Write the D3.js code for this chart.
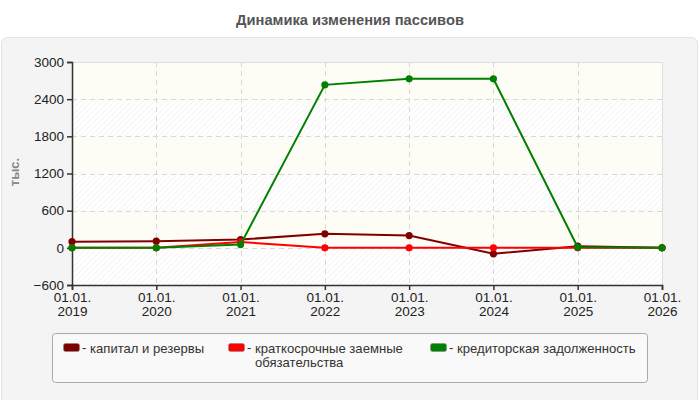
<!DOCTYPE html>
<html>
<head>
<meta charset="utf-8">
<script src="https://cdn.jsdelivr.net/npm/d3@7"></script>
<style>
  body { margin: 0; background: #fff; }
  svg { display: block; font-family: "Liberation Sans", Arial, sans-serif; }
</style>
</head>
<body>
<svg id="chart"></svg>
<script>
const width = 700;
const height = 400;

// data
const years = [2019, 2020, 2021, 2022, 2023, 2024, 2025, 2026];
const tickLabels = ["01.01.", "01.01.", "01.01.", "01.01.", "01.01.", "01.01.", "01.01.", "01.01."];
const capital = [100, 107, 134, 226, 198, -97, 26, 0];
const shortLoans = [0, 0, 95, 0, 0, 0, 0, 0];
const payables = [0, 0, 53, 2631, 2728, 2728, 10, 0];
const seriesNames = ["капитал и резервы", "краткосрочные заемные обязательства", "кредиторская задолженность"];
const seriesColors = ["#800000", "#ff0000", "#008000"];
const yTicks = [-600, 0, 600, 1200, 1800, 2400, 3000];

const font = "Liberation Sans, Arial, sans-serif";
const fs = 13.5;

const svg = d3.select("#chart").attr("width", width).attr("height", height);

// hatch pattern for the alternating bands
const defs = svg.append("defs");
const pat = defs
  .append("pattern")
  .attr("id", "hatch")
  .attr("patternUnits", "userSpaceOnUse")
  .attr("width", 4)
  .attr("height", 4)
  .attr("patternTransform", "rotate(45)");
pat.append("rect").attr("width", 4).attr("height", 4).attr("fill", "#ffffff");
pat.append("line").attr("x1", 0).attr("y1", 0).attr("x2", 0).attr("y2", 4)
  .attr("stroke", "#efefef").attr("stroke-width", 1.2);

svg.append("text")
  .attr("x", width / 2)
  .attr("y", 25)
  .attr("text-anchor", "middle")
  .attr("font-size", 14.7)
  .attr("font-weight", "bold")
  .attr("fill", "#555")
  .text("Динамика изменения пассивов");

// panel
svg.append("rect")
  .attr("x", 1.5).attr("y", 37.5)
  .attr("width", 696).attr("height", 370)
  .attr("rx", 6)
  .attr("fill", "#f4f4f4")
  .attr("stroke", "#e2e2e2");

const x = d3.scaleLinear().domain([2019, 2026]).range([72, 662]);
const y = d3.scaleLinear().domain([-600, 3000]).range([285, 62]);

const plot = svg.append("g");

// alternating bands
for (let i = 0; i < yTicks.length - 1; i++) {
  const lo = yTicks[i], hi = yTicks[i + 1];
  plot.append("rect")
    .attr("x", x(2019)).attr("width", x(2026) - x(2019))
    .attr("y", y(hi)).attr("height", y(lo) - y(hi))
    .attr("fill", i % 2 === 0 ? "url(#hatch)" : "#fdfdf6");
}

// frame top/right
plot.append("path")
  .attr("d", `M${x(2019)},${y(3000) + 0.5}H${x(2026) + 0.5}V${y(-600)}`)
  .attr("fill", "none")
  .attr("stroke", "#dddddd");

// grid
plot.append("g")
  .selectAll("line")
  .data(yTicks.filter((d) => d !== -600 && d !== 3000))
  .join("line")
  .attr("x1", x(2019)).attr("x2", x(2026))
  .attr("y1", (d) => Math.round(y(d)) + 0.5).attr("y2", (d) => Math.round(y(d)) + 0.5)
  .attr("stroke", "#d8d8d8")
  .attr("stroke-dasharray", "5,4");
plot.append("g")
  .selectAll("line")
  .data(years.slice(1, -1))
  .join("line")
  .attr("x1", (d) => Math.round(x(d)) + 0.5).attr("x2", (d) => Math.round(x(d)) + 0.5)
  .attr("y1", y(3000)).attr("y2", y(-600))
  .attr("stroke", "#d8d8d8")
  .attr("stroke-dasharray", "5,4");

// axes
const yAxis = svg.append("g")
  .attr("transform", `translate(${x(2019)},0)`)
  .call(d3.axisLeft(y).tickValues(yTicks).tickFormat(d3.format("d")).tickSize(5).tickPadding(3));
const xAxis = svg.append("g")
  .attr("transform", `translate(0,${y(-600)})`)
  .call(d3.axisBottom(x).tickValues(years).tickSize(5).tickFormat(""));

[yAxis, xAxis].forEach((g) => {
  g.attr("font-family", font).attr("font-size", fs);
  g.select(".domain").attr("stroke", "#333").attr("stroke-width", 1.5);
  g.selectAll(".tick line").attr("stroke", "#333").attr("stroke-width", 1.5);
});
yAxis.selectAll(".tick text").attr("fill", "#222");

const xl = xAxis.selectAll(".tick")
  .append("text")
  .attr("text-anchor", "middle")
  .attr("fill", "#222");
xl.append("tspan").attr("x", 0).attr("y", 17).text((d, i) => tickLabels[i]);
xl.append("tspan").attr("x", 0).attr("y", 31).text((d) => d);

svg.append("text")
  .attr("transform", "translate(19,172) rotate(-90)")
  .attr("text-anchor", "middle")
  .attr("font-size", 13)
  .attr("font-weight", "bold")
  .attr("fill", "#888")
  .text("тыс.");

// series
const seriesData = [capital, shortLoans, payables];
const line = d3.line()
  .x((d, i) => x(years[i]))
  .y((d) => y(d));

seriesData.forEach((vals, k) => {
  const g = svg.append("g");
  g.append("path")
    .datum(vals)
    .attr("d", line)
    .attr("fill", "none")
    .attr("stroke", seriesColors[k])
    .attr("stroke-width", 2);
  g.selectAll("circle")
    .data(vals)
    .join("circle")
    .attr("cx", (d, i) => x(years[i]))
    .attr("cy", (d) => y(d))
    .attr("r", 3.6)
    .attr("fill", seriesColors[k]);
});

// legend
const lfs = 13.1;
const legend = svg.append("g");
legend.append("rect")
  .attr("x", 52.5).attr("y", 333.5)
  .attr("width", 595).attr("height", 49)
  .attr("rx", 3)
  .attr("fill", "#f9f9f9")
  .attr("stroke", "#aaaaaa");

const legendX = [63, 228, 430];
const legendLines = [["капитал и резервы"], ["краткосрочные заемные", "обязательства"], ["кредиторская задолженность"]];
seriesNames.forEach((name, k) => {
  const item = legend.append("g").attr("transform", `translate(${legendX[k]},343)`);
  item.append("rect")
    .attr("x", 0.5).attr("y", 0.5)
    .attr("width", 16).attr("height", 8)
    .attr("rx", 2)
    .attr("fill", seriesColors[k])
    .attr("stroke", "#888")
    .attr("stroke-width", 0.6);
  item.append("text")
    .attr("x", 19).attr("y", 9)
    .attr("font-size", lfs)
    .attr("fill", "#333")
    .text("-");
  const t = item.append("text").attr("font-size", lfs).attr("fill", "#333");
  legendLines[k].forEach((s, j) => {
    t.append("tspan").attr("x", 27).attr("y", 9.5 + j * 14).text(s);
  });
});
</script>
</body>
</html>
